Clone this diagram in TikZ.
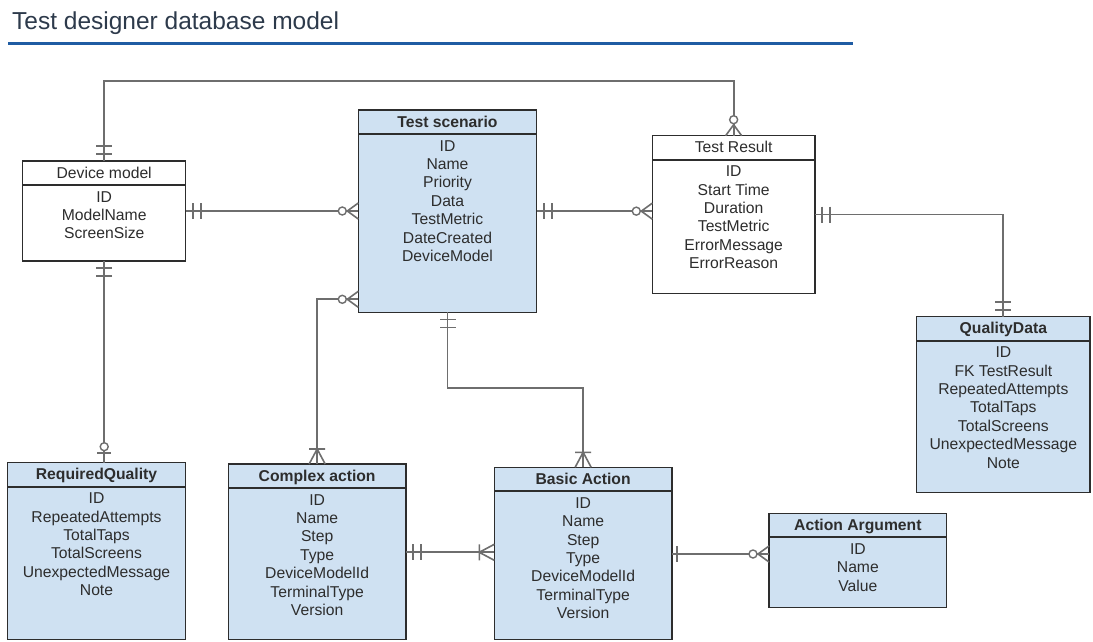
\documentclass[tikz,border=0pt]{standalone}
\usepackage{fontspec}
\setmainfont{Liberation Sans}
\usetikzlibrary{calc}
\definecolor{bluefill}{RGB}{207,225,242}
\definecolor{boxline}{RGB}{45,45,45}
\definecolor{txt}{RGB}{45,45,45}
\definecolor{connc}{RGB}{110,110,110}
\definecolor{ttlc}{RGB}{45,58,75}
\definecolor{rulec}{RGB}{31,92,163}
\tikzset{
  box/.style={draw=boxline, line width=1.5pt, inner sep=0pt, outer sep=0pt, anchor=north west},
  bluebox/.style={box, fill=bluefill},
  whitebox/.style={box, fill=white},
  hdr/.style={draw=boxline, line width=2.2pt},
  attr/.style={anchor=base, inner sep=0pt, text=txt, font=\fontsize{15.7}{18}\selectfont},
  blueboxtitle/.style={attr, font=\fontsize{15.7}{18}\selectfont\bfseries},
  whiteboxtitle/.style={attr},
  conn/.style={draw=connc, line width=1.8pt},
  endmark/.style={draw=connc, line width=1.6pt},
  mone/.pic={\draw[endmark] (7,-8) -- (7,8) (15,-8) -- (15,8);},
  one/.pic={\draw[endmark] (5,-8) -- (5,8);},
  zmany/.pic={\draw[endmark] (0,-8) -- (11,0) -- (0,8);
              \draw[endmark, line width=1.4pt, fill=white] (16,0) circle[radius=4pt];},
  omany/.pic={\draw[endmark] (0,-8) -- (15,0) -- (0,8) (15,-8) -- (15,8);},
  zone/.pic={\draw[endmark] (10,-7) -- (10,7);
             \draw[endmark, line width=1.4pt, fill=white] (16,0) circle[radius=4pt];},
}
\newcommand\erentity[8]{%
  \node[#2, minimum width=#5, minimum height=#6] (#1) at (#3,#4) {};
  \draw[hdr] ($(#1.north west)+(0,24)$) -- ($(#1.north east)+(0,24)$);
  \node[#2title] (#1-t) at ($(#1.north)+(0,17)$) {#7};
  \foreach \a [count=\i from 0] in {#8}
    \node[attr] (#1-a\i) at ($(#1.north)+(0,41+18.4*\i)$) {\a};
}
\begin{document}
\begin{tikzpicture}[x=1pt,y=-1pt]
\useasboundingbox[fill=white] (0,0) rectangle (1093,641);

% title
\node[anchor=base west, inner sep=0pt, text=ttlc, font=\fontsize{24.5}{28}\selectfont] (title) at (12,29.5) {Test designer database model};
\draw[rulec, line width=2.5pt] (8,43.5) -- (853,43.5);

% entities
\erentity{dm}{whitebox}{22.7}{161}{163pt}{100pt}{Device model}{ID,ModelName,ScreenSize}
\erentity{ts}{bluebox}{358.3}{110}{178.4pt}{202.3pt}{Test scenario}{ID,Name,Priority,Data,TestMetric,DateCreated,DeviceModel}
\erentity{tr}{whitebox}{652.3}{135.7}{162.7pt}{157.6pt}{Test Result}{ID,Start Time,Duration,TestMetric,ErrorMessage,ErrorReason}
\erentity{qd}{bluebox}{916.7}{316.7}{173.3pt}{175.8pt}{QualityData}{ID,FK TestResult,RepeatedAttempts,TotalTaps,TotalScreens,UnexpectedMessage,Note}
\erentity{rq}{bluebox}{7.3}{462.7}{178.4pt}{176.8pt}{RequiredQuality}{ID,RepeatedAttempts,TotalTaps,TotalScreens,UnexpectedMessage,Note}
\erentity{ca}{bluebox}{228.3}{464}{177.7pt}{175.5pt}{Complex action}{ID,Name,Step,Type,DeviceModelId,TerminalType,Version}
\erentity{ba}{bluebox}{494.3}{467.3}{177.7pt}{172.2pt}{Basic Action}{ID,Name,Step,Type,DeviceModelId,TerminalType,Version}
\erentity{aa}{bluebox}{769}{513.3}{177.7pt}{94.4pt}{Action Argument}{ID,Name,Value}

% helper coordinates
\coordinate (topy) at (0,80.7);
\coordinate (midy) at (0,388.3);
\coordinate (tsca) at ($(ts.south west)+(0,-13)$);
\coordinate (cab) at ($(ca.north east)+(0,88.3)$);
\coordinate (aaw) at ($(aa.west)+(0,-6.5)$);

% connectors
\draw[conn] (dm.north) -- (dm.north |- topy) -| (tr.north);
\draw[conn] (dm.south) -- (dm.south |- rq.north);
\draw[conn] (dm.east) -- (dm.east -| ts.west);
\draw[conn] (ts.east) -- (ts.east -| tr.west);
\draw[conn] (tr.east) -| (qd.north);
\draw[conn] (tsca) -| (ca.north);
\draw[conn] (ts.south) -- (ts.south |- midy) -| (ba.north);
\draw[conn] (cab) -- (cab -| ba.west);
\draw[conn] (ba.east |- aaw) -- (aaw);

% end marks
\pic[rotate=90] at (dm.north) {mone};
\pic[rotate=90] at (tr.north) {zmany};
\pic at (dm.east) {mone};
\pic[rotate=180] at (dm.east -| ts.west) {zmany};
\pic at (ts.east) {mone};
\pic[rotate=180] at (ts.east -| tr.west) {zmany};
\pic at (tr.east) {mone};
\pic[rotate=90] at (qd.north) {mone};
\pic[rotate=-90] at (dm.south) {mone};
\pic[rotate=90] at (dm.south |- rq.north) {zone};
\pic[rotate=180] at (tsca) {zmany};
\pic[rotate=90] at (ca.north) {omany};
\pic[rotate=-90] at (ts.south) {mone};
\pic[rotate=90] at (ba.north) {omany};
\pic at (cab) {mone};
\pic[rotate=180] at (cab -| ba.west) {omany};
\pic at (ba.east |- aaw) {one};
\pic[rotate=180] at (aaw) {zmany};
\end{tikzpicture}
\end{document}
